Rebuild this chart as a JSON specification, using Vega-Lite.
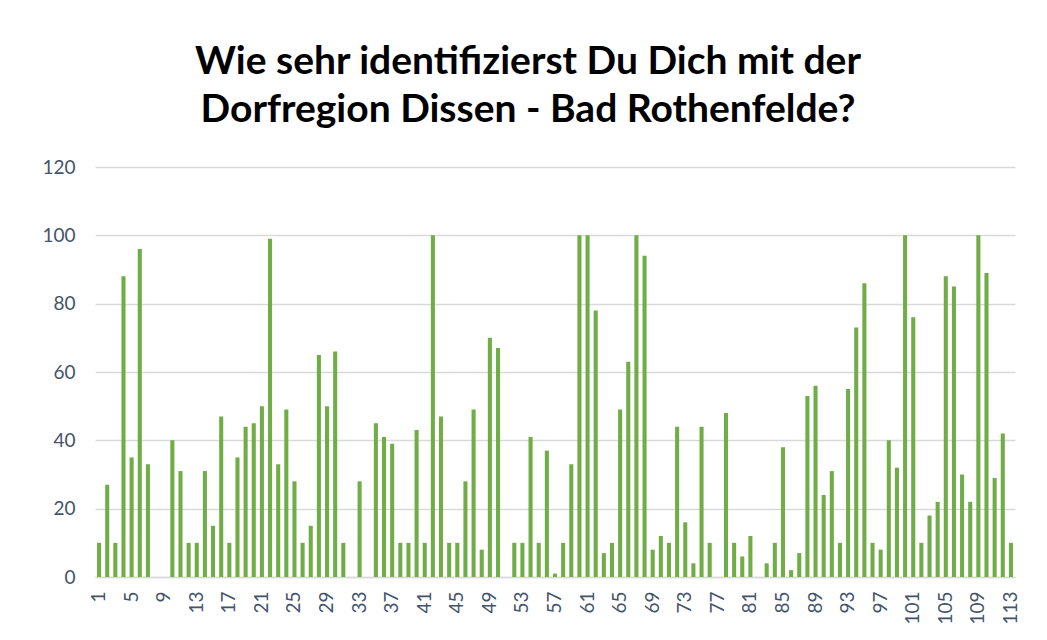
{
  "$schema": "https://vega.github.io/schema/vega-lite/v6.json",
  "width": 920,
  "height": 410,
  "autosize": {"type": "none"},
  "padding": {"left": 95, "top": 167, "right": 32, "bottom": 63},
  "background": "white",
  "title": {
    "text": ["Wie sehr identifizierst Du Dich mit der", "Dorfregion Dissen - Bad Rothenfelde?"],
    "font": "Lato",
    "fontSize": 39,
    "fontWeight": "bold",
    "color": "#000000",
    "anchor": "middle",
    "lineHeight": 48,
    "offset": 28,
    "dx": -27
  },
  "data": {
    "values": [
      {"n": 1, "v": 10}, {"n": 2, "v": 27}, {"n": 3, "v": 10}, {"n": 4, "v": 88}, {"n": 5, "v": 35},
      {"n": 6, "v": 96}, {"n": 7, "v": 33}, {"n": 8, "v": 0}, {"n": 9, "v": 0}, {"n": 10, "v": 40},
      {"n": 11, "v": 31}, {"n": 12, "v": 10}, {"n": 13, "v": 10}, {"n": 14, "v": 31}, {"n": 15, "v": 15},
      {"n": 16, "v": 47}, {"n": 17, "v": 10}, {"n": 18, "v": 35}, {"n": 19, "v": 44}, {"n": 20, "v": 45},
      {"n": 21, "v": 50}, {"n": 22, "v": 99}, {"n": 23, "v": 33}, {"n": 24, "v": 49}, {"n": 25, "v": 28},
      {"n": 26, "v": 10}, {"n": 27, "v": 15}, {"n": 28, "v": 65}, {"n": 29, "v": 50}, {"n": 30, "v": 66},
      {"n": 31, "v": 10}, {"n": 32, "v": 0}, {"n": 33, "v": 28}, {"n": 34, "v": 0}, {"n": 35, "v": 45},
      {"n": 36, "v": 41}, {"n": 37, "v": 39}, {"n": 38, "v": 10}, {"n": 39, "v": 10}, {"n": 40, "v": 43},
      {"n": 41, "v": 10}, {"n": 42, "v": 100}, {"n": 43, "v": 47}, {"n": 44, "v": 10}, {"n": 45, "v": 10},
      {"n": 46, "v": 28}, {"n": 47, "v": 49}, {"n": 48, "v": 8}, {"n": 49, "v": 70}, {"n": 50, "v": 67},
      {"n": 51, "v": 0}, {"n": 52, "v": 10}, {"n": 53, "v": 10}, {"n": 54, "v": 41}, {"n": 55, "v": 10},
      {"n": 56, "v": 37}, {"n": 57, "v": 1}, {"n": 58, "v": 10}, {"n": 59, "v": 33}, {"n": 60, "v": 100},
      {"n": 61, "v": 100}, {"n": 62, "v": 78}, {"n": 63, "v": 7}, {"n": 64, "v": 10}, {"n": 65, "v": 49},
      {"n": 66, "v": 63}, {"n": 67, "v": 100}, {"n": 68, "v": 94}, {"n": 69, "v": 8}, {"n": 70, "v": 12},
      {"n": 71, "v": 10}, {"n": 72, "v": 44}, {"n": 73, "v": 16}, {"n": 74, "v": 4}, {"n": 75, "v": 44},
      {"n": 76, "v": 10}, {"n": 77, "v": 0}, {"n": 78, "v": 48}, {"n": 79, "v": 10}, {"n": 80, "v": 6},
      {"n": 81, "v": 12}, {"n": 82, "v": 0}, {"n": 83, "v": 4}, {"n": 84, "v": 10}, {"n": 85, "v": 38},
      {"n": 86, "v": 2}, {"n": 87, "v": 7}, {"n": 88, "v": 53}, {"n": 89, "v": 56}, {"n": 90, "v": 24},
      {"n": 91, "v": 31}, {"n": 92, "v": 10}, {"n": 93, "v": 55}, {"n": 94, "v": 73}, {"n": 95, "v": 86},
      {"n": 96, "v": 10}, {"n": 97, "v": 8}, {"n": 98, "v": 40}, {"n": 99, "v": 32}, {"n": 100, "v": 100},
      {"n": 101, "v": 76}, {"n": 102, "v": 10}, {"n": 103, "v": 18}, {"n": 104, "v": 22}, {"n": 105, "v": 88},
      {"n": 106, "v": 85}, {"n": 107, "v": 30}, {"n": 108, "v": 22}, {"n": 109, "v": 100}, {"n": 110, "v": 89},
      {"n": 111, "v": 29}, {"n": 112, "v": 42}, {"n": 113, "v": 10}
    ]
  },
  "mark": {"type": "bar", "color": "#70AD47"},
  "encoding": {
    "x": {
      "field": "n",
      "type": "ordinal",
      "sort": "ascending",
      "scale": {"paddingInner": 0.5, "paddingOuter": 0.25},
      "axis": {
        "title": null,
        "labelAngle": -90,
        "labelAlign": "right",
        "labelBaseline": "middle",
        "labelExpr": "(datum.value - 1) % 4 == 0 ? datum.label : ''",
        "labelFont": "Lato",
        "labelFontSize": 19,
        "labelColor": "#44546A",
        "labelPadding": 14,
        "ticks": false,
        "domainColor": "#D9D9D9",
        "domainWidth": 1.5,
        "labelOverlap": false
      }
    },
    "y": {
      "field": "v",
      "type": "quantitative",
      "scale": {"domain": [0, 120]},
      "axis": {
        "title": null,
        "values": [0, 20, 40, 60, 80, 100, 120],
        "labelFont": "Lato",
        "labelFontSize": 19,
        "labelColor": "#44546A",
        "labelPadding": 20,
        "ticks": false,
        "domain": false,
        "gridColor": "#D9D9D9",
        "gridWidth": 1.5
      }
    }
  },
  "config": {
    "view": {"stroke": null}
  }
}
